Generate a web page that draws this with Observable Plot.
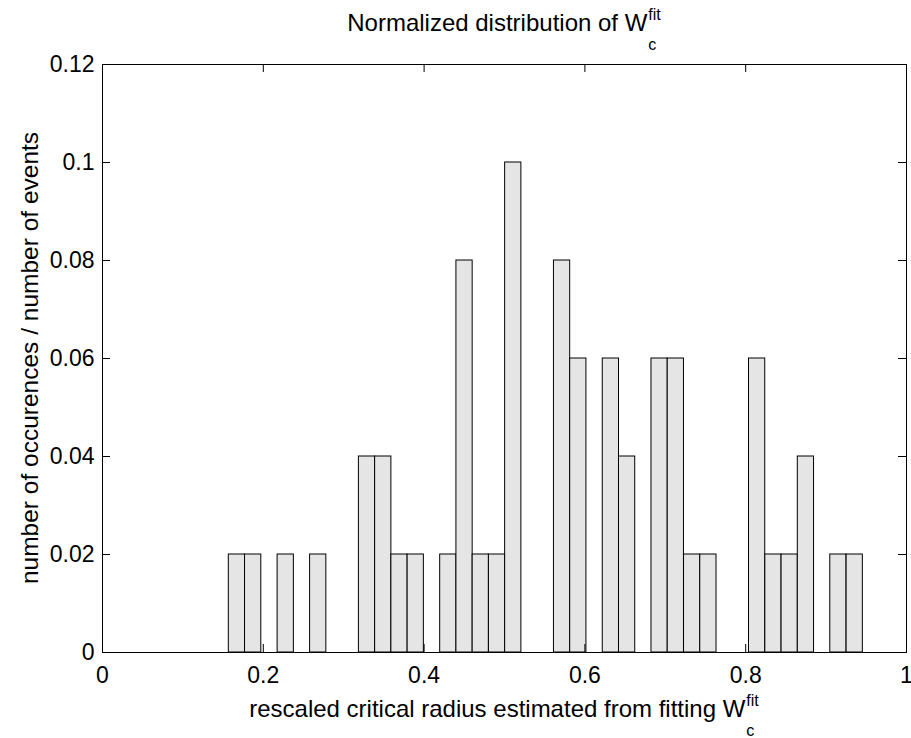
<!DOCTYPE html>
<html>
<head>
<meta charset="utf-8">
<script src="https://cdn.jsdelivr.net/npm/d3@7"></script>
<script src="https://cdn.jsdelivr.net/npm/@observablehq/plot@0.6"></script>
<style>
  html, body { margin: 0; padding: 0; background: white; }
  #chart svg { display: block; }
</style>
</head>
<body>
<div id="chart"></div>
<script>
// ---- data ----
const binCenters = [0.1672, 0.1874, 0.2279, 0.2683, 0.3290, 0.3492, 0.3694, 0.3896,
  0.4301, 0.4503, 0.4705, 0.4907, 0.5109, 0.5716, 0.5918, 0.6323, 0.6525,
  0.6929, 0.7131, 0.7334, 0.7536, 0.8142, 0.8345, 0.8547, 0.8749, 0.9153, 0.9356];
const fractions = [0.02, 0.02, 0.02, 0.02, 0.04, 0.04, 0.02, 0.02,
  0.02, 0.08, 0.02, 0.02, 0.10, 0.08, 0.06, 0.06, 0.04,
  0.06, 0.06, 0.02, 0.02, 0.06, 0.02, 0.02, 0.04, 0.02, 0.02];
const binWidth = 0.0202;
const xTicks = [0, 0.2, 0.4, 0.6, 0.8, 1];
const yTicks = [0, 0.02, 0.04, 0.06, 0.08, 0.1, 0.12];
const titleText = {main: "Normalized distribution of W", sub: "c", sup: "fit"};
const xLabelText = {main: "rescaled critical radius estimated from fitting W", sub: "c", sup: "fit"};
const yLabelText = "number of occurences / number of events";

const bars = binCenters.map((c, i) => ({lo: c - binWidth / 2, hi: c + binWidth / 2, v: fractions[i]}));

const W = 911, H = 738;
const mL = 102, mR = 5, mT = 64, mB = 86;
const iW = W - mL - mR, iH = H - mT - mB;
const tick = 8;
const font = "'Liberation Sans', Arial, Helvetica, sans-serif";

const chart = Plot.plot({
  width: W, height: H,
  marginLeft: mL, marginRight: mR, marginTop: mT, marginBottom: mB,
  style: {fontFamily: font, fontSize: "23px", background: "white", color: "black"},
  x: {domain: [0, 1]},
  y: {domain: [0, 0.12]},
  marks: [
    Plot.rectY(bars, {x1: "lo", x2: "hi", y: "v", fill: "#e5e5e5", stroke: "black", strokeWidth: 1}),
    Plot.ruleX(xTicks, {insetTop: iH - tick, stroke: "black"}),
    Plot.ruleX(xTicks, {insetBottom: iH - tick, stroke: "black"}),
    Plot.ruleY(yTicks, {insetRight: iW - tick, stroke: "black"}),
    Plot.ruleY(yTicks, {insetLeft: iW - tick, stroke: "black"}),
    Plot.frame({stroke: "black", strokeWidth: 1}),
    Plot.axisX(xTicks, {tickSize: 0, tickPadding: 14, tickFormat: d => String(d), label: null, fontSize: 23}),
    Plot.axisY(yTicks, {tickSize: 0, tickPadding: 8, tickFormat: d => String(d), label: null, fontSize: 23})
  ]
});
document.getElementById("chart").appendChild(chart);

const svg = d3.select(chart);
function stackedLabel(spec, cx, baseline, size) {
  const t = svg.append("text")
    .attr("font-family", font).attr("fill", "black")
    .attr("text-anchor", "middle")
    .attr("x", cx).attr("y", baseline)
    .attr("font-size", size);
  t.append("tspan").text(spec.main);
  t.append("tspan").attr("font-size", 16).attr("dx", 1).attr("dy", 19).text(spec.sub);
  t.append("tspan").attr("font-size", 16).attr("dx", -8).attr("dy", -30).text(spec.sup);
}
const cx = mL + iW / 2;
stackedLabel(titleText, cx, 31, 24);
stackedLabel(xLabelText, cx, 717, 24);

svg.append("text")
  .attr("font-family", font).attr("font-size", 24.5).attr("fill", "black")
  .attr("text-anchor", "middle")
  .attr("transform", `translate(38,${mT + iH / 2}) rotate(-90)`)
  .text(yLabelText);
</script>
</body>
</html>
